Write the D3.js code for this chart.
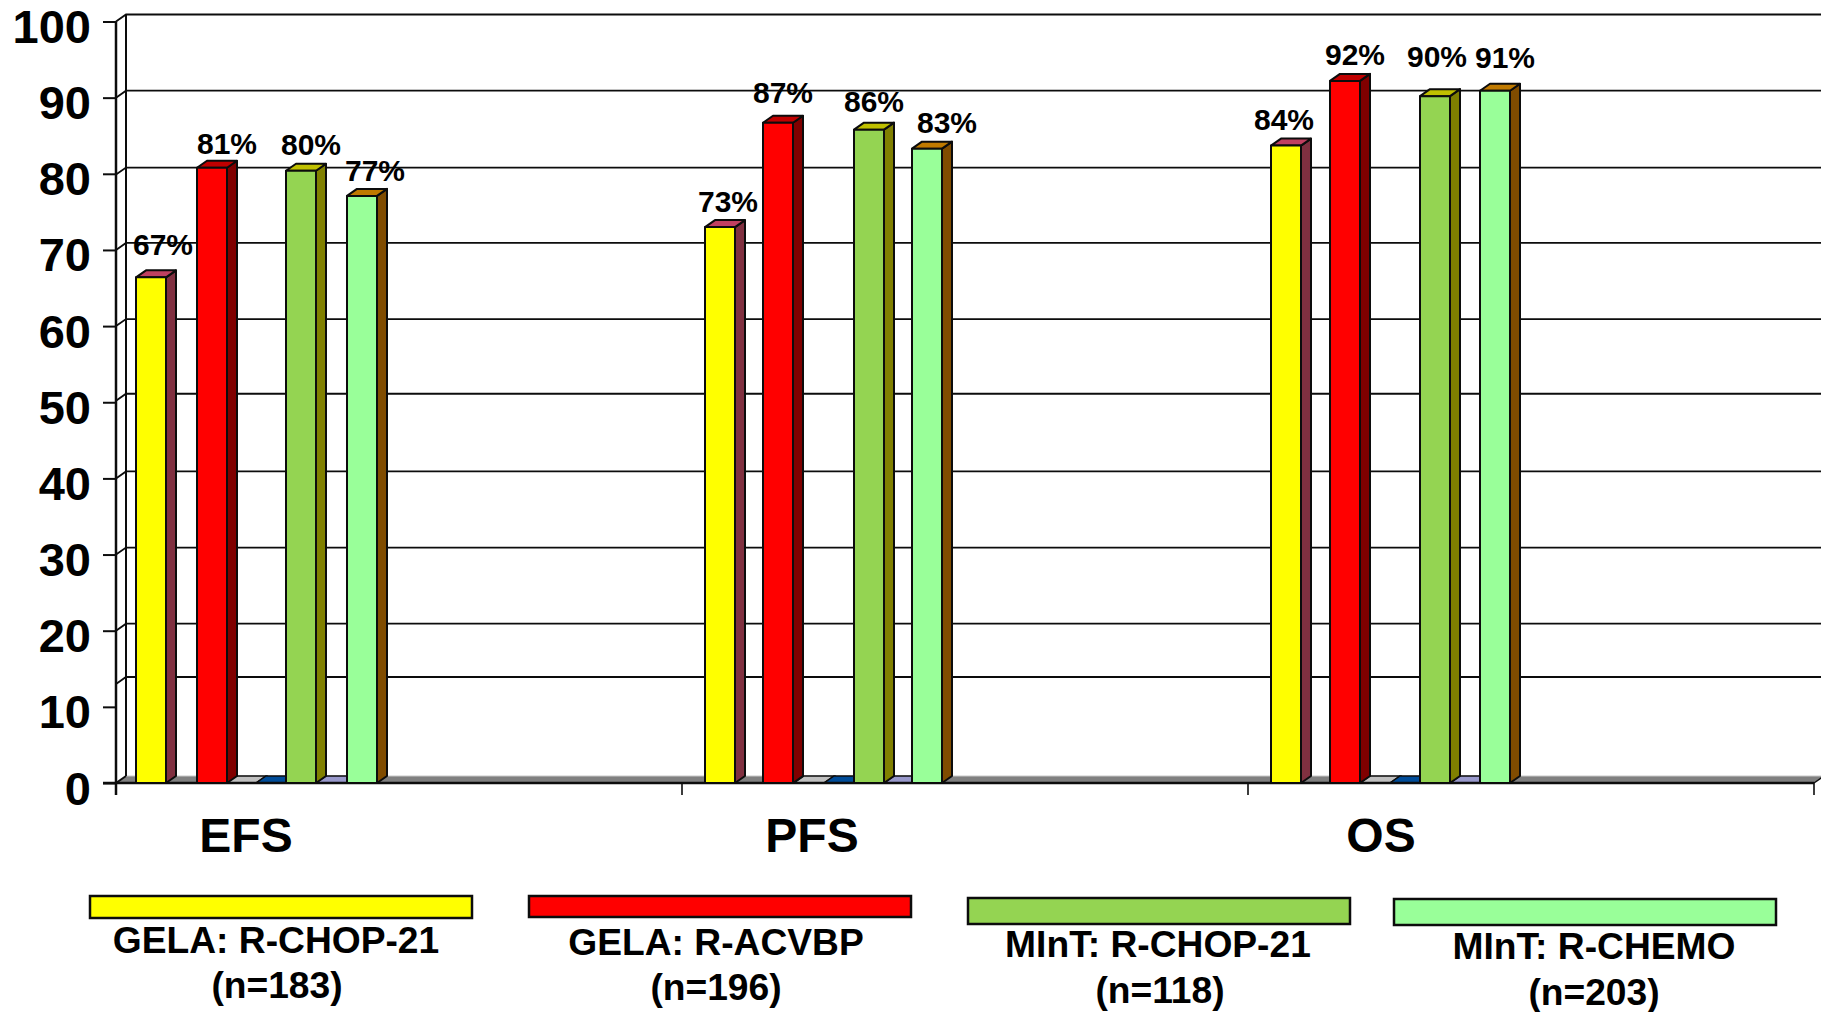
<!DOCTYPE html>
<html><head><meta charset="utf-8">
<style>html,body{margin:0;padding:0;background:#fff}svg{display:block}text{font-family:"Liberation Sans",Arial,sans-serif;font-weight:700;fill:#000}</style>
<script src="https://cdn.jsdelivr.net/npm/d3@7/dist/d3.min.js"></script>
</head><body><svg id="c" width="1821" height="1012"></svg>
<script>
// ---- data ----
const categories = ["EFS","PFS","OS"];
const slots = ["GELA: R-CHOP-21","(empty)","GELA: R-ACVBP","(silver)","(blue)","MInT: R-CHOP-21","(lilac)","MInT: R-CHEMO"];
const gelaChop  = [66.4,73.0,83.7];
const gelaAcvbp = [80.8,86.7,92.2];
const mintChop  = [80.4,85.8,90.2];
const mintChemo = [77.1,83.3,90.9];
const zeroSeries = [0,0,0];
const gelaChopLabels  = ["67%","73%","84%"];
const gelaAcvbpLabels = ["81%","87%","92%"];
const mintChopLabels  = ["80%","86%","90%"];
const mintChemoLabels = ["77%","83%","91%"];
const yTicks = [0,10,20,30,40,50,60,70,80,90,100];
const gridValues = [13,20,30,40,50.2,60,70,79.9,90,100];
const legendNames = ["GELA: R-CHOP-21","GELA: R-ACVBP","MInT: R-CHOP-21","MInT: R-CHEMO"];
const legendCounts = ["(n=183)","(n=196)","(n=118)","(n=203)"];

// ---- styles and layout ----
const palette = {
  "GELA: R-CHOP-21":{front:"#ffff00",side:"#803040",top:"#c04060"},
  "GELA: R-ACVBP":{front:"#ff0000",side:"#800000",top:"#c00000"},
  "MInT: R-CHOP-21":{front:"#94d452",side:"#808000",top:"#c0c000"},
  "MInT: R-CHEMO":{front:"#99ff99",side:"#804c00",top:"#c07a00"},
  "(silver)":{top:"#c0c0c0"},"(blue)":{top:"#004c99"},"(lilac)":{top:"#9999cc"}
};
const DX=10, DY=-7, INK="#0c0c0c";
// hand placement of the slide: [bar x nudge per category], label [dx, dy]
const barNudge = {
  "GELA: R-CHOP-21":[-1,2,2],"GELA: R-ACVBP":[0,0,1],
  "MInT: R-CHOP-21":[-1,1,1],"MInT: R-CHEMO":[0,-1,1]
};
const labelPos = {
  "GELA: R-CHOP-21":[[12,-22],[8,-15],[-2,-16]],
  "GELA: R-ACVBP":[[15,-14],[5,-20],[10,-16]],
  "MInT: R-CHOP-21":[[10,-16],[5,-18],[2,-29]],
  "MInT: R-CHEMO":[[13,-15],[20,-16],[10,-23]]
};
const legendPos = [
 {x:90,y:896,h:22,tx:276,b1:953,b2:998,dx2:1},
 {x:529,y:896,h:21,tx:716,b1:955,b2:1000,dx2:0},
 {x:968,y:898,h:26,tx:1158,b1:957,b2:1003,dx2:2},
 {x:1394,y:899,h:26,tx:1594,b1:959,b2:1005,dx2:0}
];
const seriesTable = [
 {name:"GELA: R-CHOP-21",values:gelaChop,labels:gelaChopLabels},
 {name:"GELA: R-ACVBP",values:gelaAcvbp,labels:gelaAcvbpLabels},
 {name:"MInT: R-CHOP-21",values:mintChop,labels:mintChopLabels},
 {name:"MInT: R-CHEMO",values:mintChemo,labels:mintChemoLabels}
];
const flatSeries = [
 {name:"(silver)",values:zeroSeries},{name:"(blue)",values:zeroSeries},{name:"(lilac)",values:zeroSeries}
];

// ---- scales ----
const y = d3.scaleLinear().domain([0,100]).range([783,21.5]);
const xGroup = d3.scaleBand().domain(categories).range([116,1814]);
const xSlot = d3.scaleBand().domain(slots).range([21,261]);
const BW = xSlot.bandwidth();
const svg = d3.select("#c");
const poly = pts => "M"+pts.map(p=>p.join(",")).join("L")+"Z";

// ---- walls ----
const x0=xGroup.range()[0], x1=xGroup.range()[1];
const RIGHT=1821;
const floorY=y(0);
svg.append("path").attr("d",poly([[x0,floorY],[x1,floorY],[x1+DX,floorY+DY],[x0+DX,floorY+DY]]))
  .attr("fill","#808080").attr("stroke","none");
svg.append("line").attr("x1",x0+DX).attr("x2",RIGHT).attr("y1",floorY+DY).attr("y2",floorY+DY).attr("stroke","#c8c8c8").attr("stroke-width",1);
svg.append("line").attr("x1",x0+DX).attr("x2",x0+DX).attr("y1",y(100)+DY).attr("y2",floorY+DY).attr("stroke",INK).attr("stroke-width",2);

svg.append("g").selectAll("path").data(gridValues).join("path")
  .attr("d",v=>`M${x0},${y(v)}L${x0+DX},${y(v)+DY}L${RIGHT},${y(v)+DY}`)
  .attr("fill","none").attr("stroke",INK).attr("stroke-width",1.8);
svg.append("path").attr("d",`M${x0},${floorY}L${x0+DX},${floorY+DY}`).attr("stroke",INK).attr("stroke-width",2);

// ---- zero-height series ----
flatSeries.forEach(s=>{
  svg.append("g").selectAll("path").data(categories).join("path")
    .attr("d",c=>{const l=xGroup(c)+xSlot(s.name)+(categories.indexOf(c)?1:-1);
      return poly([[l,floorY],[l+BW,floorY],[l+BW+DX,floorY+DY],[l+DX,floorY+DY]]);})
    .attr("fill",palette[s.name].top).attr("stroke",INK).attr("stroke-width",1.5);
});

// baseline of the floor
svg.append("line").attr("x1",x0-13).attr("x2",x1).attr("y1",floorY).attr("y2",floorY).attr("stroke",INK).attr("stroke-width",2.5);
svg.append("line").attr("x1",x1).attr("x2",x1+DX).attr("y1",floorY).attr("y2",floorY+DY).attr("stroke",INK).attr("stroke-width",1.5);

// ---- 3D bars ----
seriesTable.forEach(s=>{
  const p=palette[s.name];
  const g=svg.append("g").selectAll("g").data(categories.map((c,i)=>({c,i,v:s.values[i]}))).join("g")
    .attr("stroke",INK).attr("stroke-width",2).attr("stroke-linejoin","round");
  const L=d=>xGroup(d.c)+xSlot(s.name)+barNudge[s.name][d.i];
  g.append("path").attr("fill",p.side).attr("d",d=>{const l=L(d)+BW,t=y(d.v);
    return poly([[l,floorY],[l,t],[l+DX,t+DY],[l+DX,floorY+DY]]);});
  g.append("path").attr("fill",p.top).attr("d",d=>{const l=L(d),t=y(d.v);
    return poly([[l,t],[l+BW,t],[l+BW+DX,t+DY],[l+DX,t+DY]]);});
  g.append("rect").attr("fill",p.front).attr("x",L).attr("width",BW)
    .attr("y",d=>y(d.v)).attr("height",d=>floorY-y(d.v));
});

// ---- value labels ----
seriesTable.forEach(s=>{
  svg.append("g").selectAll("text").data(categories.map((c,i)=>({c,i,v:s.values[i],t:s.labels[i]}))).join("text")
    .attr("text-anchor","middle").attr("font-size",30)
    .attr("x",d=>xGroup(d.c)+xSlot(s.name)+barNudge[s.name][d.i]+BW/2+labelPos[s.name][d.i][0])
    .attr("y",d=>y(d.v)+labelPos[s.name][d.i][1])
    .text(d=>d.t);
});

// ---- axes ----
const yAxis=d3.axisLeft(y).tickValues(yTicks).tickSize(13).tickPadding(12).tickSizeOuter(0);
const ya=svg.append("g").attr("transform",`translate(${x0},0)`).call(yAxis);
ya.select(".domain").remove();
ya.selectAll(".tick line").attr("stroke",INK).attr("stroke-width",2);
ya.selectAll(".tick text").attr("font-size",47).attr("dy",21).attr("fill","#000").attr("font-family",null);
svg.append("line").attr("x1",x0).attr("x2",x0).attr("y1",y(100)).attr("y2",795).attr("stroke",INK).attr("stroke-width",2.5);

const xTickPos=[...categories.map(c=>xGroup(c)),x1];
svg.append("g").selectAll("line").data(xTickPos.slice(1)).join("line")
  .attr("x1",d=>d).attr("x2",d=>d).attr("y1",floorY).attr("y2",795).attr("stroke",INK).attr("stroke-width",1.6);
svg.append("g").selectAll("text").data(categories).join("text")
  .attr("text-anchor","middle").attr("font-size",48)
  .attr("x",(c,i)=>xGroup(c)+[130,130,133][i]).attr("y",852).text(c=>c);

// ---- legend ----
const lg=svg.append("g").selectAll("g").data(legendNames.map((n,i)=>({n,i}))).join("g");
lg.append("rect").attr("x",d=>legendPos[d.i].x).attr("y",d=>legendPos[d.i].y)
  .attr("width",382).attr("height",d=>legendPos[d.i].h)
  .attr("fill",d=>palette[d.n].front).attr("stroke",INK).attr("stroke-width",2.5);
lg.append("text").attr("text-anchor","middle").attr("font-size",37.2)
  .attr("x",d=>legendPos[d.i].tx).attr("y",d=>legendPos[d.i].b1).text(d=>d.n);
lg.append("text").attr("text-anchor","middle").attr("font-size",37.2)
  .attr("x",d=>legendPos[d.i].tx+legendPos[d.i].dx2).attr("y",d=>legendPos[d.i].b2).text(d=>legendCounts[d.i]);
</script></body></html>
